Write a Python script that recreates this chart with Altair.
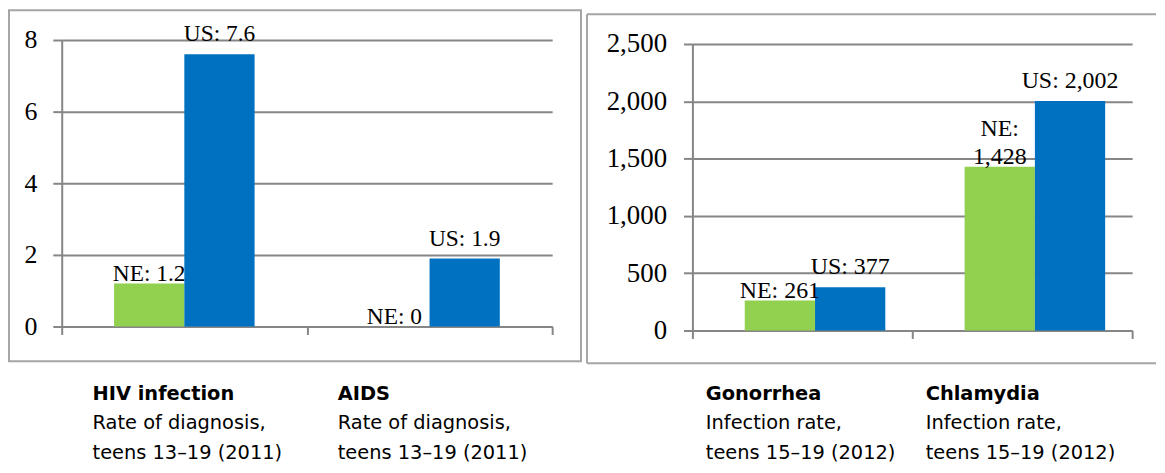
import altair as alt
import pandas as pd

# ---------------- data ----------------
series = ["NE", "US"]
series_colors = ["#92D050", "#0070C0"]

left_categories = ["HIV infection", "AIDS"]
left_ne = [1.2, 0]
left_us = [7.6, 1.9]
left_notes = ["Rate of diagnosis,\nteens 13\u201319 (2011)", "Rate of diagnosis,\nteens 13\u201319 (2011)"]
left_ticks = [0, 2, 4, 6, 8]

right_categories = ["Gonorrhea", "Chlamydia"]
right_ne = [261, 1428]
right_us = [377, 2002]
right_notes = ["Infection rate,\nteens 15\u201319 (2012)", "Infection rate,\nteens 15\u201319 (2012)"]
right_ticks = [0, 500, 1000, 1500, 2000, 2500]

wrapped_labels = [("Chlamydia", "NE")]

# ---------------- style ----------------
GRID = "#868686"
BORDER = "#a5a5a5"
SERIF = "Liberation Serif"
SANS = "DejaVu Sans"
LABEL_LINE = 28


def make_table(cats, ne, us):
    rows = []
    for c, a, b in zip(cats, ne, us):
        for s, v in zip(series, (a, b)):
            if (c, s) in wrapped_labels:
                top, main = f"{s}:", f"{v:,}"
            else:
                top, main = "", f"{s}: {v:,}"
            rows.append({"category": c, "series": s, "value": v,
                         "label_top": top, "label_main": main})
    return pd.DataFrame(rows)


def panel(cats, ne, us, notes, ticks, fmt, width, height, top_pad, tick_font,
          label_font, tick_pad, cap_dx, cap_y, border_layers):
    df = make_table(cats, ne, us)
    cap = pd.DataFrame({"category": cats, "note": notes})

    x_axis = alt.Axis(labels=False, title=None, grid=False, ticks=True,
                      tickBand="extent", tickSize=8, tickColor=GRID, tickWidth=2,
                      domainColor=GRID, domainWidth=2)
    x = alt.X("category:N", sort=cats,
              scale=alt.Scale(paddingInner=0, paddingOuter=0), axis=x_axis)
    y = alt.Y("value:Q",
              scale=alt.Scale(domain=[0, ticks[-1]], nice=False,
                              range=[height, top_pad]),
              axis=alt.Axis(values=ticks, format=fmt, title=None, grid=True,
                            gridColor=GRID, gridWidth=2, tickSize=9,
                            tickColor=GRID, tickWidth=2, domainColor=GRID,
                            domainWidth=2, labelFont=SERIF,
                            labelFontSize=tick_font, labelColor="black",
                            labelPadding=tick_pad))
    xo = alt.XOffset("series:N", sort=series,
                     scale=alt.Scale(paddingInner=0, paddingOuter=0.745))

    base = alt.Chart(df)
    bars = base.mark_bar().encode(
        x=x, xOffset=xo, y=y,
        color=alt.Color("series:N", scale=alt.Scale(domain=series, range=series_colors),
                        legend=None))

    layers = [bars]
    for s, dy in (("NE", 2), ("US", -8)):
        sub = base.transform_filter(alt.datum.series == s)
        layers.append(sub.mark_text(font=SERIF, fontSize=label_font, color="black",
                                    baseline="bottom", dy=dy).encode(
            x=x, xOffset=xo, y=y, text="label_main:N"))
        layers.append(sub.transform_filter(alt.datum.label_top != "").mark_text(
            font=SERIF, fontSize=label_font, color="black",
            baseline="bottom", dy=dy - LABEL_LINE).encode(
            x=x, xOffset=xo, y=y, text="label_top:N"))

    xc = alt.X("category:N", sort=cats, bandPosition=0,
               scale=alt.Scale(paddingInner=0, paddingOuter=0), axis=x_axis)
    cbase = alt.Chart(cap)
    names = cbase.mark_text(font=SANS, fontSize=19.5, fontWeight="bold",
                            align="left", baseline="alphabetic", dx=cap_dx,
                            color="black").encode(
        x=xc, y=alt.value(cap_y), text="category:N")
    note_txt = cbase.mark_text(font=SANS, fontSize=19.5, align="left",
                               baseline="alphabetic", dx=cap_dx, lineBreak="\n",
                               lineHeight=30, color="black").encode(
        x=xc, y=alt.value(cap_y + 29), text="note:N")

    return alt.layer(*border_layers, *layers, names, note_txt).properties(
        width=width, height=height)


one = pd.DataFrame({"k": [0]})

left_border = [alt.Chart(one).mark_rect(fill="transparent", stroke=BORDER, strokeWidth=2).encode(
    x=alt.value(-53), x2=alt.value(522), y=alt.value(-30), y2=alt.value(323))]

right_border = [
    alt.Chart(one).mark_rule(stroke=BORDER, strokeWidth=2).encode(
        x=alt.value(-106), x2=alt.value(466), y=alt.value(-26)),
    alt.Chart(one).mark_rule(stroke=BORDER, strokeWidth=2).encode(
        x=alt.value(-106), y=alt.value(-26), y2=alt.value(325)),
    alt.Chart(one).mark_rule(stroke=BORDER, strokeWidth=2).encode(
        x=alt.value(-106), x2=alt.value(466), y=alt.value(325)),
]

left = panel(left_categories, left_ne, left_us, left_notes, left_ticks, "d",
             493, 288, 0, 26, 23.5, 16, 31, 362, left_border)
right = panel(right_categories, right_ne, right_us, right_notes, right_ticks, ",d",
              442, 292, 4, 27, 24, 17, 13.5, 362, right_border)

chart = alt.hconcat(left, right, spacing=4).properties(padding=0).configure_view(
    strokeWidth=0).resolve_scale(color="independent")

chart.save("out.html", embed_options={"renderer": "svg", "actions": False})
